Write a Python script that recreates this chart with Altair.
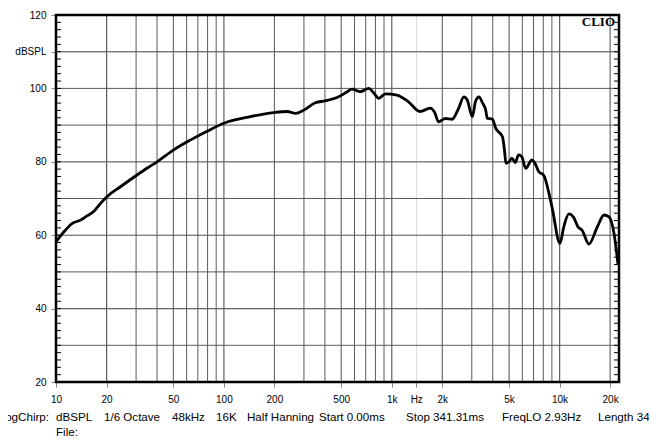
import altair as alt
import pandas as pd

# ---- data ----
freq_hz = [10, 11.4, 12.5, 14.0, 15.0, 16.7, 18.3, 20.1, 24.2, 30.4, 35, 40, 50, 63, 80, 100,
           144, 198, 238, 267, 300, 351, 402, 483, 540, 580, 650, 730, 780, 838, 917, 1073,
           1254, 1474, 1695, 1800, 1900, 2090, 2290, 2500, 2690, 2820, 3020, 3160, 3310, 3480,
           3630, 3710, 3980, 4170, 4570, 4700, 4790, 5000, 5200, 5450, 5700, 5950, 6290, 6840,
           7100, 7520, 8030, 9000, 10050, 10600, 11350, 12080, 12900, 13600, 14960, 16800,
           18400, 19700, 21100, 22300]
spl_db = [58.2, 61.4, 63.2, 64.1, 65.0, 66.4, 68.5, 70.5, 73.2, 76.4, 78.3, 80.0, 83.2, 85.9, 88.4, 90.5,
          92.3, 93.4, 93.7, 93.2, 94.1, 96.1, 96.6, 97.7, 99.0, 99.8, 99.1, 100.0, 98.8, 97.3, 98.5, 98.2,
          96.4, 93.7, 94.6, 93.5, 90.9, 91.8, 91.6, 94.5, 97.7, 96.8, 92.3, 96.5, 97.7, 96.0,
          94.1, 91.9, 91.6, 89.1, 86.8, 83.0, 79.6, 80.0, 81.0, 79.8, 81.9, 81.4, 78.2, 80.5,
          79.8, 77.3, 76.4, 67.8, 57.8, 62.3, 65.8, 65.0, 62.2, 61.4, 57.6, 62.3,
          65.5, 65.0, 60.5, 51.9]

x_tick_values = [10, 20, 50, 100, 200, 500, 1000, 1400, 2000, 5000, 10000, 20000]
y_tick_values = [20, 40, 60, 80, 100, 110, 120]
grid_mults = [1, 2, 3, 4, 5, 6, 7, 8, 9]
grid_decades = [10, 100, 1000, 10000]
hgrid_db = [30, 40, 50, 60, 70, 80, 90, 100, 110]
minor_db = list(range(22, 120, 2))

info_texts = ["LogChirp:", "dBSPL", "1/6 Octave", "48kHz", "16K", "Half Hanning",
              "Start 0.00ms", "Stop 341.31ms", "FreqLO 2.93Hz", "Length 341.31ms"]
info_x = [-7, 0, 48, 116, 160, 191, 263, 350, 446, 542]   # layout offsets (px)

# ---- layout ----
W, H = 563, 367
F_MIN, F_MAX = 10, 22600
xscale = alt.Scale(type="log", domain=[F_MIN, F_MAX], nice=False)
yscale = alt.Scale(domain=[20, 120], nice=False, zero=False)

x_axis = alt.Axis(values=x_tick_values, labelPadding=7, labelFlush=False,
                  labelOverlap=False, labelBound=False, title=None,
                  labelExpr="datum.value == 1400 ? 'Hz' : (datum.value >= 1000 ? (datum.value/1000) + 'k' : '' + datum.value)")
y_axis = alt.Axis(values=y_tick_values, labelPadding=5, labelOverlap=False,
                  labelFlush=False, title=None,
                  labelExpr="datum.value == 110 ? 'dBSPL' : '' + datum.value")


def X(field="f:Q"):
    return alt.X(field, scale=xscale, axis=x_axis, title=None)


def Y(field="db:Q"):
    return alt.Y(field, scale=yscale, axis=y_axis, title=None)


curve_df = pd.DataFrame({"f": freq_hz, "db": spl_db})
vgrid_df = pd.DataFrame({"f": [m * d for d in grid_decades for m in grid_mults if m * d <= F_MAX]})
hgrid_df = pd.DataFrame({"db": hgrid_db})
minor_df = pd.DataFrame({"db": minor_db})
dummy = pd.DataFrame({"a": [0]})

GRID = "#5a5a5a"

curve = alt.Chart(curve_df).mark_line(color="black", strokeWidth=2.8,
                                      interpolate="monotone", clip=True).encode(
    x=X(), y=Y())

vgrid = alt.Chart(vgrid_df).mark_rule(color=GRID, strokeWidth=1).encode(
    x=X(), y=alt.value(0), y2=alt.value(H))

hgrid = alt.Chart(hgrid_df).mark_rule(color=GRID, strokeWidth=1).encode(
    y=Y(), x=alt.value(0), x2=alt.value(W))

ticks_left = alt.Chart(minor_df).mark_rule(color="black", strokeWidth=1).encode(
    y=Y(), x=alt.value(0), x2=alt.value(5))

ticks_right = alt.Chart(minor_df).mark_rule(color="black", strokeWidth=1).encode(
    y=Y(), x=alt.value(W - 5), x2=alt.value(W))

border = alt.Chart(dummy).mark_rect(filled=False, stroke="black", strokeWidth=2.5).encode(
    x=alt.value(0), x2=alt.value(W), y=alt.value(0), y2=alt.value(H))

clio = alt.Chart(dummy).mark_text(text="CLIO", font="Liberation Serif", fontWeight="bold",
                                  fontSize=13, align="right", baseline="middle",
                                  color="black").encode(
    x=alt.value(W - 4), y=alt.value(7))

layers = [vgrid, hgrid, ticks_left, ticks_right, curve, border, clio]

for i, (t, px) in enumerate(zip(info_texts, info_x)):
    layers.append(alt.Chart(dummy).mark_text(text=t, font="Liberation Sans", fontSize=11.6,
                                             align="right" if i == 0 else "left",
                                             baseline="middle", color="black").encode(
        x=alt.value(px), y=alt.value(H + 36)))

layers.append(alt.Chart(dummy).mark_text(text="File:", font="Liberation Sans", fontSize=11.6,
                                         align="left", baseline="middle", color="black").encode(
    x=alt.value(0), y=alt.value(H + 51)))

chart = alt.layer(*layers).properties(
    width=W, height=H,
    autosize=alt.AutoSizeParams(type="none"),
    padding={"left": 48, "top": 7, "right": 30, "bottom": 64},
).configure_view(stroke=None).configure_axis(
    labelFont="Liberation Sans", labelFontSize=12, labelColor="black",
    domain=False, ticks=False, grid=False,
).configure(background="white")

chart.save("out.html", embed_options={"renderer": "svg", "actions": False})
